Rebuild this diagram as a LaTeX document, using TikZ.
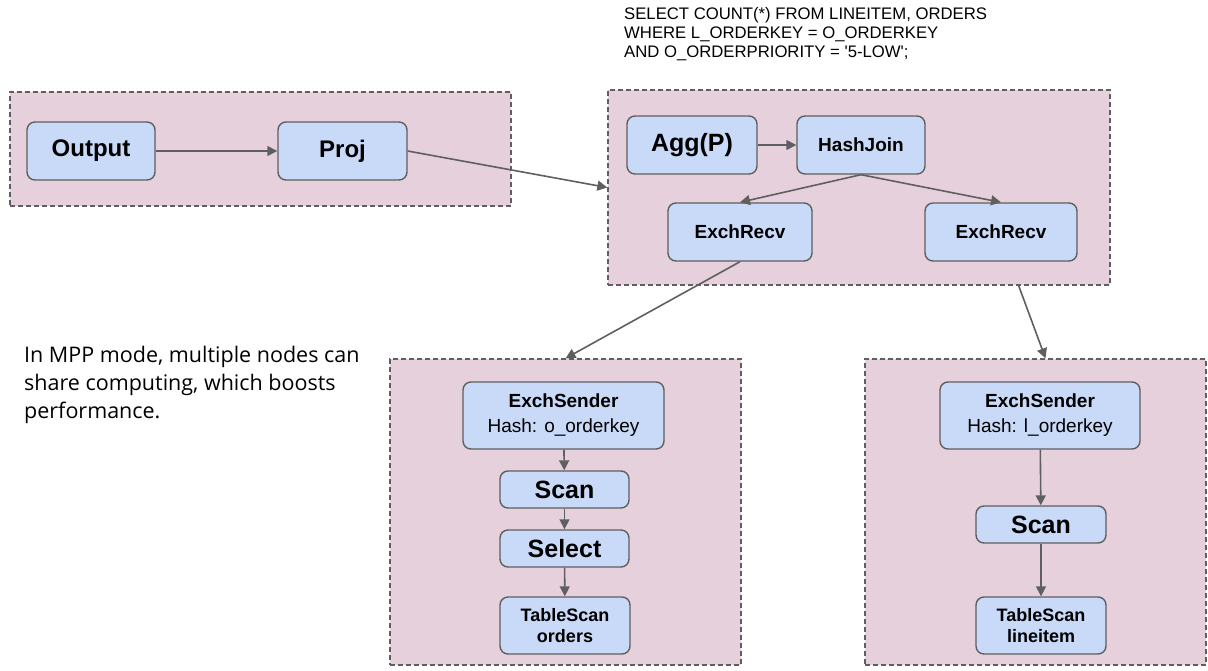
\documentclass[tikz,border=0pt]{standalone}
\usepackage{fontspec}
\setmainfont{Liberation Sans}
\newfontfamily\notefont{Open Sans}
\usetikzlibrary{arrows.meta}
\definecolor{groupfill}{HTML}{E6D0DC}
\definecolor{opfill}{HTML}{C9DAF8}
\definecolor{edgegray}{HTML}{5F5F5F}
\newcommand\fsz[2]{\fontsize{#1}{#2}\selectfont}
\begin{document}
\begin{tikzpicture}[x=1pt,y=-1pt,
    group/.style={draw=edgegray,fill=groupfill,line width=1.3pt,dash pattern=on 5pt off 3pt,inner sep=0pt},
    op/.style={draw=edgegray,fill=opfill,line width=1.4pt,rounded corners=8pt,inner sep=0pt,align=center},
    opbig/.style={op,font=\bfseries\fsz{25}{29}},
    opmid/.style={op,font=\bfseries\fsz{19}{25}},
    opsmall/.style={op,font=\bfseries\fsz{18}{21}},
    flow/.style={draw=edgegray,line width=1.6pt,-{Triangle[width=10pt,length=10pt]}}]
    \useasboundingbox (0,0) rectangle (1208,670);
    % fragments
    \node[group,minimum width=501pt,minimum height=114pt] (g1) at (260.5,149) {};
    \node[group,minimum width=502pt,minimum height=195pt] (g2) at (859,187.5) {};
    \node[group,minimum width=351pt,minimum height=306pt] (g3) at (565.5,512) {};
    \node[group,minimum width=341pt,minimum height=306pt] (g4) at (1035.5,512) {};
    % operators
    \node[opbig,font=\bfseries\fsz{24}{28},minimum width=128pt,minimum height=58pt] (out) at (91,151) {Output};
    \node[opbig,font=\bfseries\fsz{24}{28},minimum width=129pt,minimum height=58pt] (proj) at (342.5,151) {Proj};
    \node[opbig,minimum width=130pt,minimum height=58pt] (agg) at (692,145) {Agg(P)};
    \node[opmid,minimum width=128pt,minimum height=58pt] (hj) at (861,145) {HashJoin};
    \node[opmid,minimum width=144pt,minimum height=58pt] (rl) at (740,232) {ExchRecv};
    \node[opmid,minimum width=152pt,minimum height=58pt] (rr) at (1001,232) {ExchRecv};
    \node[opmid,minimum width=201pt,minimum height=67pt] (sl) at (563.5,415.5) {ExchSender\\{\mdseries Hash: o\_orderkey}};
    \node[opbig,minimum width=129pt,minimum height=37pt] (scl) at (564.5,489.5) {Scan};
    \node[opbig,minimum width=129pt,minimum height=37pt] (sel) at (564.5,548.5) {Select};
    \node[opsmall,minimum width=130pt,minimum height=57pt] (tl) at (565,625.5) {TableScan\\orders};
    \node[opmid,minimum width=200pt,minimum height=67pt] (sr) at (1040,415.5) {ExchSender\\{\mdseries Hash: l\_orderkey}};
    \node[opbig,minimum width=130pt,minimum height=37pt] (scr) at (1041,524.5) {Scan};
    \node[opsmall,minimum width=130pt,minimum height=57pt] (tr) at (1041,625.5) {TableScan\\lineitem};
    % texts
    \node[anchor=north west,inner sep=0pt,align=left,font=\fsz{16.7}{19}] (sql) at (624,7) {SELECT COUNT(*) FROM LINEITEM, ORDERS\\WHERE L\_ORDERKEY = O\_ORDERKEY\\AND O\_ORDERPRIORITY = \textquotesingle 5-LOW\textquotesingle;};
    \node[anchor=north west,inner sep=0pt,align=left,font=\notefont\fsz{21.5}{28}] (note) at (24,346) {In MPP mode, multiple nodes can\\share computing, which boosts\\performance.};
    % edges
    \draw[flow] (out) -- (proj);
    \draw[flow] (proj.east) -- (g2.west);
    \draw[flow] (agg) -- (hj);
    \draw[flow] (hj.south) -- (rl.north);
    \draw[flow] (hj.south) -- (rr.north);
    \draw[flow] (rl.south) -- (g3.north);
    \draw[flow] ([xshift=-92pt]g2.south east) -- ([xshift=10pt]g4.north);
    \draw[flow] (sl) -- (scl);
    \draw[flow] (scl) -- (sel);
    \draw[flow] (sel) -- (tl);
    \draw[flow] (sr) -- (scr);
    \draw[flow] (scr) -- (tr);
\end{tikzpicture}
\end{document}
